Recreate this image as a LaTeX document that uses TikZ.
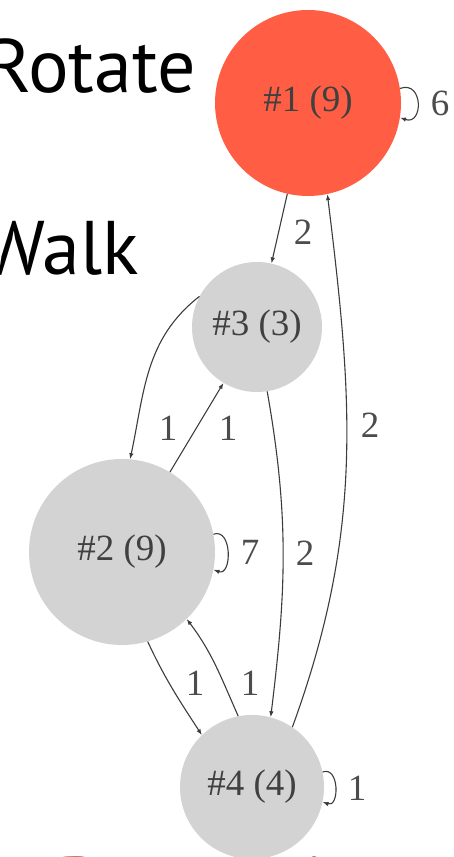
\documentclass[tikz,border=0pt]{standalone}
\usepackage{fontspec}
\setmainfont{Liberation Serif}
\newfontfamily\slidefont{PT Sans}
\usepackage{xcolor}
\usetikzlibrary{arrows.meta,positioning}

\definecolor{hotred}{RGB}{255,94,69}
\definecolor{nodegray}{RGB}{211,211,211}
\definecolor{edgegray}{RGB}{60,60,60}
\definecolor{titlered}{RGB}{192,80,77}

\begin{document}
\begin{tikzpicture}[
  x=1pt, y=1pt,
  state/.style={circle, fill=nodegray, inner sep=0pt, text=black!75, font=\fontsize{37}{40}\selectfont},
  hot/.style={state, fill=hotred},
  arrow/.style={-{Latex[length=6pt,width=4.5pt]}, edgegray, line width=1.1pt},
  wlabel/.style={text=black!70, inner sep=0pt, font=\fontsize{37}{40}\selectfont},
  slide/.style={inner sep=0pt, font=\slidefont\fontsize{76}{80}\selectfont}
]
\useasboundingbox (0,0) rectangle (454,857);

\node[slide, anchor=base east] (rotate) at (196,764) {Rotate};
\node[slide, anchor=base east] (walk) at (139,582) {Walk};
\node[slide, anchor=base west, text=titlered] (dyn) at (57,-53) {\addfontfeature{LetterSpace=6}Dynamic};

\node[hot, minimum size=186pt] (n1) at (308,754) {\#1 (9)};
\node[state, minimum size=130pt] (n3) at (257,530) {\#3 (3)};
\node[state, minimum size=186pt] (n2) at (122,305) {\#2 (9)};
\node[state, minimum size=144pt] (n4) at (252,70) {\#4 (4)};

% edges
\draw[arrow] (n1) -- (n3);
\draw[arrow] (n4.56) to[out=70, in=-83] (n1.-78);
\draw[arrow] (n3.-81) to[out=-80, in=83] (n4.75);
\draw[arrow] (n3.152) to[out=218, in=78] (n2.85);
\draw[arrow] (n2) -- (n3);
\draw[arrow] (n2.-74) to[out=-65, in=123] (n4.134);
\draw[arrow] (n4.101) to[out=114, in=-53] (n2.-46);

% self loops
\draw[arrow] (n1.9) .. controls +(20:25) and +(-20:25) .. (n1.-9);
\draw[arrow] (n2.11) .. controls +(20:20) and +(-20:20) .. (n2.-11);
\draw[arrow] (n4.12) .. controls +(20:18) and +(-20:18) .. (n4.-12);

% weights
\node[wlabel] (w13) at (303,625) {2};
\node[wlabel] (w41) at (370,432) {2};
\node[wlabel] (w34) at (305,304) {2};
\node[wlabel] (w32) at (168,429) {1};
\node[wlabel] (w23) at (228,429) {1};
\node[wlabel] (w24) at (195,174) {1};
\node[wlabel] (w42) at (250,174) {1};
\node[wlabel] (w11) at (440,754) {6};
\node[wlabel] (w22) at (250,305) {7};
\node[wlabel] (w44) at (357,69) {1};

\end{tikzpicture}
\end{document}
